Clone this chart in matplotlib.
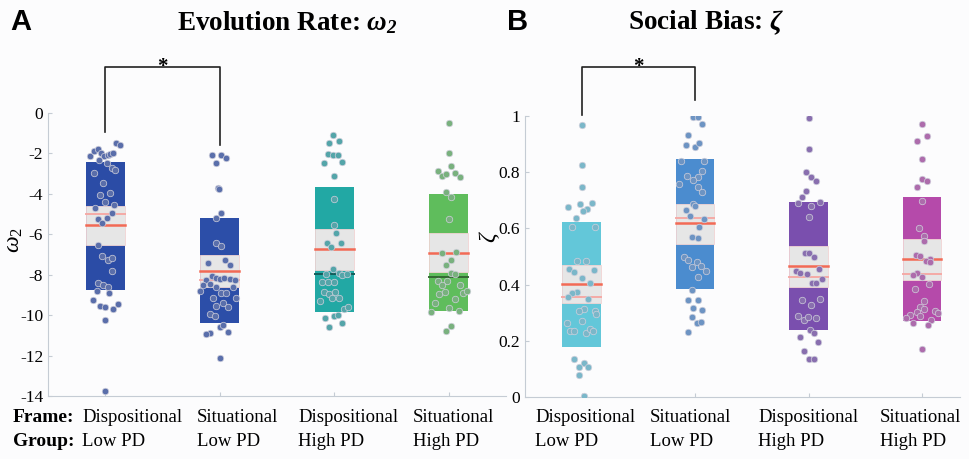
import numpy as np
import matplotlib.pyplot as plt
from matplotlib.patches import Rectangle

plt.rcParams['font.family'] = ['Liberation Serif', 'DejaVu Serif']
plt.rcParams['mathtext.fontset'] = 'custom'
plt.rcParams['mathtext.rm'] = 'Liberation Serif'
plt.rcParams['mathtext.it'] = 'Liberation Serif:italic'
plt.rcParams['mathtext.bf'] = 'Liberation Serif:bold:italic'

frames = ['Dispositional', 'Situational', 'Dispositional', 'Situational']
groups = ['Low PD', 'Low PD', 'High PD', 'High PD']

# panel A: omega_2 summary (sd box, sem box, mean, median)
w_sd_top = [-2.4, -5.2, -3.68, -3.99]
w_sd_bot = [-8.75, -10.4, -9.85, -9.8]
w_sem_top = [-4.6, -7.0, -5.76, -5.96]
w_sem_bot = [-6.55, -8.6, -7.77, -7.87]
w_mean = [-5.55, -7.8, -6.75, -6.91]
w_median = [-5.0, -8.25, -7.97, -8.1]

# panel B: zeta summary
z_sd_top = [0.624, 0.848, 0.693, 0.711]
z_sd_bot = [0.179, 0.385, 0.238, 0.269]
z_sem_top = [0.469, 0.688, 0.539, 0.563]
z_sem_bot = [0.336, 0.545, 0.39, 0.416]
z_mean = [0.403, 0.618, 0.466, 0.49]
z_median = [0.357, 0.637, 0.428, 0.438]

# individual subjects: (jitter, value)
w_pts1 = [(-0.136, -2.13), (-0.101, -1.86), (-0.067, -1.80), (-0.038, -2.00), (-0.009, -2.13),
          (0.020, -2.06), (0.043, -2.03), (0.072, -2.00), (0.096, -1.50), (0.125, -1.57),
          (-0.058, -2.33), (0.014, -2.46), (0.058, -2.74), (0.087, -2.82), (-0.096, -2.99),
          (-0.020, -3.48), (-0.043, -4.08), (0.038, -3.98), (-0.003, -4.39), (0.078, -4.54),
          (-0.087, -4.72), (0.058, -4.97), (-0.067, -5.23), (-0.029, -5.43), (0.014, -5.21),
          (-0.067, -6.52), (-0.026, -7.05), (0.020, -7.28), (0.058, -7.15), (0.058, -7.81),
          (-0.064, -8.40), (-0.020, -8.53), (0.020, -8.63), (-0.072, -8.83), (0.032, -8.89),
          (-0.110, -9.26), (-0.043, -9.55), (-0.003, -9.62), (0.107, -9.46), (0.072, -9.72),
          (-0.003, -10.25), (-0.003, -13.75)]
w_pts2 = [(-0.070, -2.06), (0.012, -2.06), (0.058, -2.24), (-0.029, -2.46), (-0.012, -3.71),
          (-0.006, -3.78), (0.014, -4.97), (-0.029, -5.20), (-0.029, -6.45), (0.014, -6.58),
          (-0.101, -7.41), (0.046, -7.28), (0.087, -7.51), (-0.064, -8.07), (-0.029, -8.15),
          (0.0, -8.20), (0.035, -8.14), (0.087, -8.23), (0.130, -8.27), (-0.122, -8.27),
          (-0.145, -8.53), (-0.174, -8.83), (-0.087, -8.47), (-0.035, -8.63), (0.116, -8.60),
          (0.012, -8.89), (0.058, -8.89), (0.139, -9.16), (-0.058, -9.16), (0.029, -9.39),
          (-0.029, -9.55), (0.072, -9.59), (-0.087, -9.92), (-0.043, -10.05), (0.0, -10.58),
          (0.029, -10.51), (0.072, -10.81), (-0.081, -10.87), (-0.122, -10.91), (0.0, -12.10)]
w_pts3 = [(-0.009, -1.07), (-0.049, -1.47), (0.038, -1.37), (-0.052, -2.03), (-0.009, -2.08),
          (0.035, -2.10), (-0.090, -2.46), (0.072, -2.41), (-0.003, -3.12), (-0.003, -4.24),
          (-0.003, -5.56), (0.014, -5.96), (-0.067, -6.42), (0.055, -6.42), (-0.026, -6.65),
          (-0.009, -7.71), (-0.072, -7.97), (0.038, -7.90), (0.072, -8.00), (0.107, -7.94),
          (-0.107, -8.35), (-0.052, -8.37), (-0.003, -8.37), (-0.090, -8.84), (-0.049, -8.93),
          (0.006, -8.84), (-0.125, -9.29), (-0.020, -9.13), (0.043, -9.13), (0.084, -9.72),
          (0.116, -9.59), (-0.084, -10.12), (-0.003, -10.05), (0.035, -10.00), (-0.043, -10.58),
          (0.072, -10.41)]
w_pts4 = [(0.0, -0.51), (0.0, -2.00), (0.020, -2.62), (-0.096, -2.85), (-0.055, -3.12),
          (-0.020, -3.02), (0.058, -2.99), (0.096, -3.15), (-0.020, -3.89), (0.020, -4.17),
          (0.0, -5.26), (-0.061, -6.95), (0.061, -6.88), (0.020, -7.28), (-0.020, -7.51),
          (0.020, -7.90), (0.058, -7.97), (-0.090, -8.30), (-0.014, -8.30), (0.101, -8.51),
          (-0.058, -8.51), (-0.084, -8.93), (-0.032, -8.86), (0.125, -8.89), (0.159, -8.83),
          (0.058, -9.19), (-0.119, -9.42), (0.0, -9.65), (0.090, -9.79), (-0.154, -9.82),
          (0.020, -10.54), (-0.020, -10.79)]

z_pts1 = [(0.0, 0.967), (0.0, 0.827), (0.0, 0.749), (-0.121, 0.675), (-0.015, 0.687),
          (0.088, 0.692), (0.050, 0.670), (0.015, 0.663), (-0.050, 0.637), (-0.088, 0.606),
          (0.121, 0.606), (-0.044, 0.483), (0.038, 0.483), (-0.109, 0.457), (-0.068, 0.445),
          (0.109, 0.452), (0.0, 0.423), (0.074, 0.407), (-0.044, 0.374), (-0.088, 0.369),
          (-0.121, 0.355), (0.059, 0.350), (0.118, 0.305), (0.021, 0.312), (-0.021, 0.305),
          (0.126, 0.295), (0.0, 0.269), (-0.126, 0.265), (-0.103, 0.236), (-0.068, 0.234),
          (0.038, 0.229), (0.074, 0.241), (0.103, 0.236), (-0.065, 0.136), (0.021, 0.120),
          (-0.021, 0.108), (0.059, 0.108), (-0.024, 0.079), (0.021, 0.004)]
z_pts2 = [(-0.021, 0.995), (0.021, 0.995), (0.062, 0.972), (-0.062, 0.934), (-0.079, 0.898),
          (0.0, 0.891), (0.038, 0.905), (-0.121, 0.841), (0.079, 0.841), (-0.068, 0.786),
          (0.021, 0.782), (-0.015, 0.772), (-0.144, 0.758), (0.062, 0.805), (0.026, 0.746),
          (0.062, 0.730), (-0.015, 0.687), (-0.003, 0.680), (-0.079, 0.666), (-0.044, 0.644),
          (0.079, 0.632), (0.038, 0.604), (-0.026, 0.571), (0.021, 0.566), (-0.097, 0.499),
          (-0.062, 0.488), (0.015, 0.480), (0.050, 0.466), (-0.026, 0.464), (0.097, 0.450),
          (0.026, 0.426), (-0.026, 0.381), (-0.062, 0.345), (0.021, 0.345), (-0.015, 0.317),
          (0.062, 0.310), (-0.026, 0.284), (0.015, 0.265), (0.056, 0.267), (-0.062, 0.231)]
z_pts3 = [(0.0, 0.992), (0.0, 0.881), (-0.021, 0.801), (0.021, 0.782), (0.062, 0.770),
          (-0.021, 0.734), (-0.056, 0.713), (-0.091, 0.692), (0.021, 0.680), (0.097, 0.694),
          (0.0, 0.639), (-0.032, 0.514), (0.003, 0.514), (0.050, 0.499), (-0.109, 0.450),
          (-0.079, 0.442), (-0.015, 0.438), (0.091, 0.457), (0.032, 0.405), (0.062, 0.407),
          (0.121, 0.421), (-0.056, 0.345), (0.021, 0.326), (0.097, 0.348), (-0.091, 0.288),
          (-0.038, 0.274), (-0.009, 0.284), (0.062, 0.281), (0.009, 0.238), (0.044, 0.229),
          (-0.079, 0.215), (0.079, 0.196), (-0.038, 0.165), (0.0, 0.134), (0.044, 0.134)]
z_pts4 = [(0.0, 0.972), (-0.044, 0.910), (0.044, 0.929), (0.0, 0.846), (0.0, 0.775),
          (0.044, 0.770), (-0.044, 0.746), (0.0, 0.699), (-0.026, 0.601), (0.021, 0.573),
          (0.021, 0.556), (-0.050, 0.504), (-0.021, 0.502), (0.068, 0.490), (0.038, 0.483),
          (0.068, 0.480), (-0.044, 0.442), (-0.079, 0.433), (0.003, 0.428), (0.062, 0.402),
          (-0.062, 0.383), (0.021, 0.340), (-0.021, 0.321), (0.021, 0.314), (-0.044, 0.302),
          (0.115, 0.305), (0.144, 0.298), (-0.109, 0.293), (-0.144, 0.281), (-0.015, 0.288),
          (0.079, 0.274), (-0.079, 0.262), (0.050, 0.255), (0.0, 0.170)]

w_colors = ['#2b4ca6', '#2c4ea8', '#22a8a4', '#5fbd5c']
z_colors = ['#63c7d9', '#4b8ccf', '#7a4fae', '#b54aaa']

AXC = '#c5ccd4'


def blend(c, other, t):
    c = np.array(plt.matplotlib.colors.to_rgb(c))
    o = np.array(plt.matplotlib.colors.to_rgb(other))
    return tuple(c * (1 - t) + o * t)


def nbp(ax, sd_top, sd_bot, sem_top, sem_bot, mean, median, pts, colors):
    hw = 0.17
    for i in range(4):
        x = i + 1
        ax.add_patch(Rectangle((x - hw, sd_bot[i]), 2 * hw, sd_top[i] - sd_bot[i],
                               facecolor=colors[i], edgecolor='none', zorder=1))
        ax.add_patch(Rectangle((x - hw, sem_bot[i]), 2 * hw, sem_top[i] - sem_bot[i],
                               facecolor='#e6e6e6', edgecolor='#f2d4d4', lw=0.6, zorder=2))
        ax.plot([x - hw, x + hw], [mean[i], mean[i]], color='#f26a55', lw=1.8, zorder=3)
        if sem_bot[i] <= median[i] <= sem_top[i]:
            mc = '#f5aaa6'
        else:
            mc = blend(colors[i], 'black', 0.45)
        ax.plot([x - hw, x + hw], [median[i], median[i]], color=mc, lw=1.4, zorder=3)
        dx = np.array([p[0] for p in pts[i]])
        vy = np.array([p[1] for p in pts[i]])
        ax.scatter(x + dx, vy, s=22, color=blend(colors[i], '#a0a0b0', 0.4),
                   edgecolors='#d0d0dc', linewidths=0.5, zorder=4)
    for s in ['top', 'right']:
        ax.spines[s].set_visible(False)
    for s in ['left', 'bottom']:
        ax.spines[s].set_color(AXC)
        ax.spines[s].set_linewidth(0.8)
    ax.tick_params(direction='in', length=3, color=AXC, labelsize=12.5, width=0.8)
    ax.set_xticks([1, 2, 3, 4])
    ax.set_xticklabels([])
    ax.set_facecolor('none')


fig = plt.figure(figsize=(9.69, 4.59), dpi=100)
fig.patch.set_facecolor('#fcfcfd')

axA = fig.add_axes([48 / 969, 63 / 459, 458 / 969, 283 / 459])
nbp(axA, w_sd_top, w_sd_bot, w_sem_top, w_sem_bot, w_mean, w_median,
    [w_pts1, w_pts2, w_pts3, w_pts4], w_colors)
axA.set_xlim(0.5, 4.5)
axA.set_ylim(-14, 0)
axA.set_yticks(np.arange(-14, 1, 2))
axA.set_yticklabels([str(v) for v in np.arange(-14, 1, 2)])
axA.set_ylabel(r'$\omega_2$', fontsize=17)
axA.yaxis.set_label_coords(-0.05, 0.55)

axB = fig.add_axes([525 / 969, 62 / 459, 435 / 969, 281 / 459])
nbp(axB, z_sd_top, z_sd_bot, z_sem_top, z_sem_bot, z_mean, z_median,
    [z_pts1, z_pts2, z_pts3, z_pts4], z_colors)
axB.set_xlim(0.5, 4.335)
axB.set_ylim(0, 1)
axB.set_yticks([0, 0.2, 0.4, 0.6, 0.8, 1])
axB.set_yticklabels(['0', '0.2', '0.4', '0.6', '0.8', '1'])
axB.set_ylabel(r'$\zeta$', fontsize=17)
axB.yaxis.set_label_coords(-0.052, 0.57)

# significance brackets
axA.plot([1, 1, 2, 2], [-0.92, 2.28, 2.28, -1.58], color='#222222', lw=1.2, clip_on=False)
axA.text(1.5, 2.28, '*', ha='center', va='center', fontsize=15, fontweight='bold')
axB.plot([1, 1, 2, 2], [1.003, 1.174, 1.174, 1.057], color='#222222', lw=1.2, clip_on=False)
axB.text(1.5, 1.174, '*', ha='center', va='center', fontsize=15, fontweight='bold')

# titles and panel letters
fig.text(287 / 969, 1 - 23 / 459, r'Evolution Rate: $\mathbf{\omega_2}$', ha='center', va='center',
         fontsize=19.5, fontweight='bold')
fig.text(706 / 969, 1 - 23 / 459, r'Social Bias: $\mathbf{\zeta}$', ha='center', va='center',
         fontsize=19.5, fontweight='bold')
fig.text(21 / 969, 1 - 22 / 459, 'A', ha='center', va='center', fontsize=21,
         fontweight='bold', family='Liberation Sans')
fig.text(518 / 969, 1 - 22 / 459, 'B', ha='center', va='center', fontsize=21,
         fontweight='bold', family='Liberation Sans')

# category labels (frame / group rows)
row1 = 1 - 418 / 459
row2 = 1 - 441 / 459
fig.text(13 / 969, row1, 'Frame:', ha='left', va='center', fontsize=14, fontweight='bold')
fig.text(13 / 969, row2, 'Group:', ha='left', va='center', fontsize=14, fontweight='bold')
starts = [82, 197, 298, 413, 535, 650, 758, 880]
for j, sx in enumerate(starts):
    k = j % 4
    fig.text(sx / 969, row1, frames[k], ha='left', va='center', fontsize=13.5)
    fig.text(sx / 969, row2, groups[k], ha='left', va='center', fontsize=13.5)

fig.savefig('out.png', dpi=100, facecolor=fig.get_facecolor())
